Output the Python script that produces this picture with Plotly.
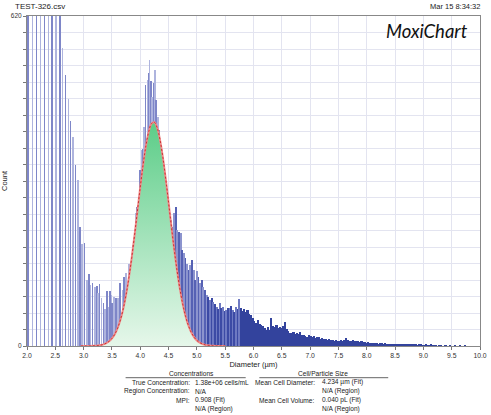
import numpy as np
import plotly.graph_objects as go

# ---------------- data ----------------
diam_left = [2.02, 2.10, 2.17, 2.24, 2.31, 2.38, 2.44, 2.51, 2.58]
count_left = [2600, 2450, 2300, 2100, 1900, 1650, 1400, 1100, 800]

diam_shoulder = [2.627, 2.679, 2.731, 2.772, 2.817, 2.859, 2.904, 2.938, 2.973, 3.014,
                 3.059, 3.094, 3.118, 3.153, 3.197, 3.232, 3.256, 3.284, 3.318, 3.353,
                 3.377, 3.417, 3.446, 3.463, 3.491]
count_shoulder = [559, 509, 464, 423, 393, 341, 311, 223, 191, 193,
                  124, 135, 115, 118, 111, 113, 99, 116, 90, 80,
                  69, 103, 73, 103, 96]

diam_peak = [3.503, 3.533, 3.572, 3.607, 3.647, 3.688, 3.716, 3.745, 3.775, 3.802,
             3.832, 3.861, 3.889, 3.918, 3.947, 3.975, 3.992, 4.022, 4.039, 4.068,
             4.096, 4.125, 4.143, 4.165, 4.189, 4.212, 4.234, 4.263, 4.281, 4.310,
             4.338, 4.367, 4.396, 4.424, 4.454, 4.483, 4.511, 4.540, 4.569, 4.597,
             4.626, 4.655, 4.683, 4.713, 4.742, 4.770, 4.799, 4.829, 4.856, 4.886,
             4.915, 4.943, 4.972, 5.001, 5.029, 5.058, 5.088, 5.115, 5.145, 5.174,
             5.202, 5.231, 5.260, 5.288, 5.317, 5.347, 5.376, 5.404, 5.433, 5.461,
             5.490, 5.520, 5.548, 5.577, 5.606, 5.634, 5.663, 5.692, 5.721, 5.750]
count_peak = [81, 93, 90, 90, 118, 105, 130, 137, 111, 155,
              143, 190, 187, 249, 262, 281, 331, 368, 371, 412,
              490, 500, 512, 537, 497, 468, 494, 519, 462, 431,
              406, 356, 343, 318, 281, 268, 262, 237, 224, 249,
              262, 218, 215, 212, 180, 174, 165, 155, 143, 152,
              162, 143, 124, 140, 130, 118, 124, 111, 105, 96,
              93, 86, 90, 83, 78, 74, 70, 80, 72, 74,
              66, 68, 72, 71, 75, 68, 64, 74, 70, 88]

tail_start = 5.78
tail_step = 0.03
count_tail = [72, 66, 70, 63, 67, 60, 58, 52,
              47, 44, 49, 42, 40, 38, 33, 31, 35, 30,
              52, 37, 35, 39, 33, 36, 34, 38, 46, 32,
              28, 25, 24, 27, 22, 25, 23, 26, 21, 20,
              19, 17, 21, 18, 16, 18, 15, 17, 16, 14,
              15, 13, 14, 12, 13, 11, 12, 10, 11, 10,
              9, 11, 10, 12, 15, 11, 10, 9, 11, 10,
              9, 10, 8, 9, 7, 8, 6, 7, 6, 5,
              6, 5, 5, 4, 6, 5, 4, 5, 4, 4,
              4, 3, 4, 3, 3, 4, 2, 3, 3, 2,
              3, 2, 2, 3, 2, 2, 1, 2, 2, 1,
              1, 2, 1, 1, 2, 1, 1, 1, 0, 1,
              1, 0, 1, 1, 0, 1, 0, 0, 1, 0,
              0, 1, 0, 0, 1, 0, 0, 0, 0, 0]

# Gaussian fit curve values
fit_diam = [2.95, 3.00, 3.05, 3.10, 3.15, 3.20, 3.25, 3.30, 3.35, 3.40,
            3.45, 3.50, 3.55, 3.60, 3.65, 3.70, 3.75, 3.80, 3.85, 3.90,
            3.95, 4.00, 4.05, 4.10, 4.15, 4.20, 4.25, 4.30, 4.35, 4.40,
            4.45, 4.50, 4.55, 4.60, 4.65, 4.70, 4.75, 4.80, 4.85, 4.90,
            4.95, 5.00, 5.05, 5.10, 5.15, 5.20, 5.25, 5.30, 5.35, 5.40,
            5.45, 5.50]
fit_count = [0.0, 0.03, 0.06, 0.13, 0.26, 0.5, 0.95, 1.7, 3.1, 5.3,
             8.8, 14.2, 22.2, 33.6, 49.3, 70.1, 96.5, 128.8, 166.5, 208.7,
             253.5, 298.3, 340.2, 376.0, 402.7, 418.0, 420.3, 409.6, 386.9, 354.0,
             313.9, 269.8, 224.7, 181.3, 141.7, 107.4, 78.9, 56.1, 38.7, 25.9,
             16.8, 10.5, 6.4, 3.8, 2.1, 1.2, 0.6, 0.3, 0.17, 0.08,
             0.04, 0.02]

y_ticks = list(range(0, 621, 31))
y_ticktext = ["0"] + [""] * 19 + ["620"]
x_ticks = [2.0, 2.5, 3.0, 3.5, 4.0, 4.5, 5.0, 5.5, 6.0, 6.5, 7.0, 7.5, 8.0, 8.5, 9.0, 9.5, 10.0]

# ---------------- assemble bars ----------------
tail_diam = [round(tail_start + i * tail_step, 3) for i in range(len(count_tail))]
narrow_x = diam_left + diam_shoulder + diam_peak
narrow_y = count_left + count_shoulder + count_peak

bar_x = narrow_x + tail_diam
bar_y = narrow_y + count_tail
bar_w = [0.01 if d < 4.45 else 0.017 for d in narrow_x] + [tail_step] * len(tail_diam)
bar_c = []
for i, d in enumerate(narrow_x):
    if d < 4.45:
        bar_c.append("#7e86c8" if i % 2 == 0 else "#aeb4de")
    elif d < 5.2:
        bar_c.append("#5561b4" if i % 2 == 0 else "#8c94ce")
    else:
        bar_c.append("#3c4aa5" if i % 2 == 0 else "#6e79c2")
bar_c += ["#33439d"] * len(tail_diam)

fig = go.Figure()
fig.add_trace(go.Bar(x=bar_x, y=bar_y, width=bar_w,
                     marker=dict(color=bar_c, line=dict(width=0)),
                     hoverinfo="x+y", showlegend=False))
fig.add_trace(go.Scatter(x=fit_diam, y=fit_count, mode="none", fill="tozeroy",
                         fillgradient=dict(type="vertical",
                                           colorscale=[[0, "#e6f7ea"], [1, "#5ccd88"]],
                                           start=0, stop=420),
                         line_shape="spline", showlegend=False, hoverinfo="skip"))
fig.add_trace(go.Scatter(x=fit_diam, y=fit_count, mode="lines",
                         line=dict(color="#f08a8a", width=2, shape="spline"),
                         showlegend=False, hoverinfo="skip"))
fig.add_trace(go.Scatter(x=fit_diam, y=fit_count, mode="lines",
                         line=dict(color="#c83232", width=1, dash="2px,2px", shape="spline"),
                         showlegend=False, hoverinfo="skip"))

# ---------------- layout ----------------
L, R, T, B = 23, 4, 16, 69
W, H = 491, 415
pw, ph = W - L - R, H - T - B


def px(xp):
    return (xp - L) / pw


def py(yp):
    return (H - B - yp) / ph


font_small = dict(family="Liberation Sans, Arial, sans-serif", size=6.6, color="#222")
ann = []
ann.append(dict(text="TEST-326.csv", x=px(9), y=py(6), xanchor="left", yanchor="middle",
                font=dict(family="Liberation Sans, Arial", size=8, color="#222")))
ann.append(dict(text="Mar 15 8:34:32", x=px(489), y=py(6), xanchor="right", yanchor="middle",
                font=dict(family="Liberation Sans, Arial", size=7.5, color="#222")))
ann.append(dict(text="<i>MoxiChart</i>", x=px(477), y=py(31), xanchor="right", yanchor="middle",
                font=dict(family="Lato, Open Sans, sans-serif", size=18.5, color="#111")))

ann.append(dict(text="Concentrations", x=px(191.5), y=py(373.3), xanchor="center", yanchor="middle", font=font_small))
ann.append(dict(text="Cell/Particle Size", x=px(326), y=py(373.3), xanchor="center", yanchor="middle", font=font_small))

rows_y = [382.3, 391.3, 400.3, 409.3]
left_labels = ["True Concentration:", "Region Concentration:", "MPI:", ""]
left_values = ["1.38e+06 cells/mL", "N/A", "0.908 (Fit)", "N/A (Region)"]
right_labels = ["Mean Cell Diameter:", "", "Mean Cell Volume:", ""]
right_values = ["4.234 µm (Fit)", "N/A (Region)", "0.040 pL (Fit)", "N/A (Region)"]
for yy, a, b, c, d in zip(rows_y, left_labels, left_values, right_labels, right_values):
    if a:
        ann.append(dict(text=a, x=px(192.5), y=py(yy), xanchor="right", yanchor="middle", font=font_small))
    ann.append(dict(text=b, x=px(193), y=py(yy), xanchor="left", yanchor="middle", font=font_small))
    if c:
        ann.append(dict(text=c, x=px(320.5), y=py(yy), xanchor="right", yanchor="middle", font=font_small))
    ann.append(dict(text=d, x=px(323), y=py(yy), xanchor="left", yanchor="middle", font=font_small))

for a in ann:
    a.update(xref="paper", yref="paper", showarrow=False)

shapes = [
    dict(type="line", xref="paper", yref="paper", x0=px(124), x1=px(247), y0=py(377.7), y1=py(377.7),
         line=dict(color="#666", width=1)),
    dict(type="line", xref="paper", yref="paper", x0=px(261), x1=px(393), y0=py(377.7), y1=py(377.7),
         line=dict(color="#666", width=1)),
]

fig.update_layout(
    width=W, height=H,
    margin=dict(l=L, r=R, t=T, b=B, pad=0),
    paper_bgcolor="white", plot_bgcolor="white",
    bargap=0, showlegend=False,
    annotations=ann, shapes=shapes,
    font=dict(family="Liberation Sans, Arial, sans-serif", color="#222"),
)
fig.update_xaxes(range=[2, 10], tickvals=x_ticks, ticktext=[f"{v:.1f}" for v in x_ticks],
                 ticks="outside", ticklen=3, tickcolor="#777",
                 tickfont=dict(size=6.8, color="#333"), ticklabeloverflow="allow",
                 showgrid=True, gridcolor="#e3e4f0", gridwidth=1,
                 showline=True, linecolor="#888", linewidth=1, mirror=True,
                 zeroline=False,
                 title=dict(text="Diameter (µm)", font=dict(size=7.5, color="#222"), standoff=3))
fig.update_yaxes(range=[0, 620], tickvals=y_ticks, ticktext=y_ticktext,
                 ticks="outside", ticklen=3, tickcolor="#777",
                 tickfont=dict(size=6.5, color="#333"),
                 showgrid=True, gridcolor="#e3e4f0", gridwidth=1,
                 showline=True, linecolor="#888", linewidth=1, mirror=True,
                 zeroline=False,
                 title=dict(text="Count", font=dict(size=7.5, color="#222"), standoff=2))

fig.write_html("out.html", config={"displayModeBar": False},
               post_script="document.body.style.margin='0';document.body.style.padding='0';")
